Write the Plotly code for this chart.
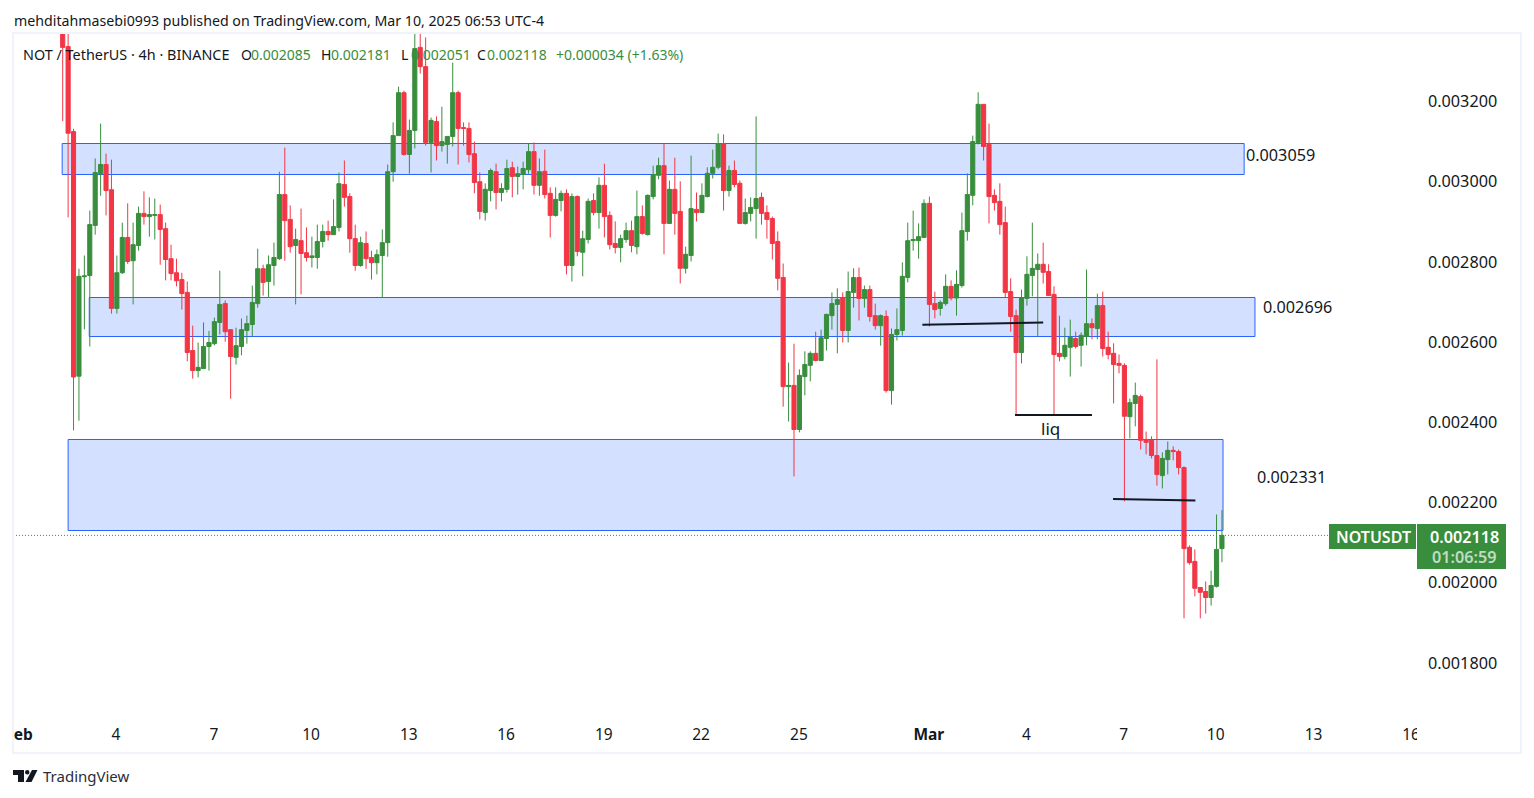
import numpy as np
import plotly.graph_objects as go

# NOT/USDT 4h candles, prices x 1e-6
opens = [3420,3337,3125,2515,2763,2766,2891,3020,3043,2980,
2684,2773,2861,2803,2841,2921,2913,2916,2918,2883,
2808,2773,2756,2724,2579,2529,2534,2589,2596,2649,
2696,2631,2562,2589,2629,2644,2696,2783,2751,2791,
2808,2968,2906,2841,2853,2823,2811,2811,2851,2876,
2868,2886,2993,2963,2858,2791,2846,2811,2798,2816,
2848,3025,3115,3222,3068,3128,3335,3287,3098,3150,
3090,3093,3113,3222,3135,3133,3070,3000,2923,2978,
3025,2973,2981,3035,3013,3018,3030,3075,2991,3026,
2971,2916,2953,2971,2791,2963,2824,2856,2953,2923,
2991,2916,2846,2836,2856,2878,2838,2913,2868,2963,
3016,3040,2896,2981,2926,2784,2816,2931,2923,2963,
3021,3036,3095,2978,3028,2996,2896,2921,2933,2961,
2923,2908,2851,2761,2489,2492,2382,2514,2542,2572,
2554,2609,2666,2694,2711,2629,2724,2761,2709,2731,
2666,2641,2664,2479,2619,2629,2761,2853,2853,2861,
2946,2696,2684,2696,2739,2710,2741,2876,2966,3098,
3193,3093,2966,2951,2898,2726,2666,2574,2709,2766,
2781,2794,2776,2719,2572,2564,2587,2609,2592,2614,
2646,2634,2691,2587,2572,2547,2542,2414,2447,2464,
2357,2355,2317,2267,2307,2330,2327,2287,2088,2053,
1988,1978,1963,1991,2085]
highs = [3450,3400,3132,2783,2816,2928,3058,3145,3070,3055,
2816,2898,2946,2898,2938,2976,2961,2958,2943,2898,
2843,2808,2773,2751,2641,2599,2649,2628,2661,2778,
2704,2631,2636,2659,2666,2741,2833,2793,2816,2848,
3025,3085,2941,2883,2933,2886,2863,2893,2893,2903,
2956,3023,3053,2971,2893,2863,2876,2828,2831,2881,
3043,3148,3237,3227,3155,3400,3400,3360,3160,3163,
3187,3113,3297,3227,3148,3148,3100,3023,2996,3033,
3045,2996,3055,3050,3038,3050,3095,3098,3058,3080,
2986,2986,2978,2981,2971,2966,2878,2958,2971,3011,
3045,2926,2901,2868,2898,2903,2978,2941,2968,3040,
3060,3095,3003,3060,3001,2838,3065,2973,2996,3036,
3080,3120,3118,3040,3053,3003,2958,2961,3163,2973,
2941,2913,2876,2796,2549,2596,2532,2577,2577,2626,
2631,2671,2724,2734,2724,2776,2784,2786,2741,2741,
2696,2669,2679,2634,2684,2799,2898,2928,2896,2956,
2963,2726,2704,2769,2754,2779,2923,3021,3115,3223,
3193,3145,2981,2996,2938,2759,2681,2731,2814,2898,
2821,2848,2794,2739,2666,2636,2656,2626,2624,2781,
2659,2721,2726,2626,2597,2569,2547,2459,2499,2469,
2377,2365,2557,2325,2352,2340,2332,2290,2093,2083,
1988,2003,2030,2170,2181]
lows = [3151,2911,2380,2404,2632,2589,2868,2965,2916,2671,
2671,2770,2795,2694,2828,2893,2863,2856,2793,2754,
2754,2739,2681,2552,2509,2512,2534,2529,2592,2619,
2601,2459,2544,2567,2596,2614,2686,2716,2710,2741,
2805,2803,2823,2694,2719,2801,2786,2783,2836,2853,
2868,2876,2938,2823,2778,2788,2783,2756,2769,2710,
2813,3000,3115,3065,3020,3083,3270,3090,3023,3053,
3075,3045,3088,3043,3090,3048,2971,2906,2903,2951,
2931,2951,2973,2961,2968,2981,3020,2968,2965,2958,
2861,2913,2926,2769,2751,2814,2764,2846,2916,2883,
2861,2831,2821,2799,2848,2824,2819,2868,2866,2956,
3006,2819,2896,2868,2746,2771,2801,2901,2923,2961,
3008,3031,2928,2963,2986,2896,2893,2901,2858,2893,
2858,2806,2729,2439,2402,2265,2375,2467,2502,2552,
2554,2579,2631,2572,2599,2599,2686,2654,2686,2651,
2631,2591,2474,2444,2604,2616,2749,2828,2808,2861,
2639,2659,2666,2691,2704,2666,2736,2853,2941,3093,
3053,2896,2928,2868,2711,2626,2417,2547,2691,2714,
2613,2746,2716,2417,2552,2557,2514,2584,2539,2592,
2607,2607,2564,2557,2447,2522,2203,2360,2390,2332,
2320,2310,2242,2235,2270,2305,2270,1911,2045,1966,
1911,1923,1943,1988,2051]
closes = [3335,3121,2513,2764,2765,2893,3023,3043,2978,2684,
2773,2861,2801,2843,2921,2913,2918,2918,2881,2806,
2771,2753,2721,2574,2529,2537,2589,2599,2651,2694,
2626,2564,2591,2631,2646,2699,2783,2749,2793,2811,
2968,2903,2838,2856,2821,2811,2815,2851,2876,2868,
2888,2995,2961,2858,2791,2848,2808,2798,2818,2848,
3025,3115,3222,3068,3128,3332,3287,3098,3153,3090,
3100,3113,3222,3133,3133,3068,2998,2926,2981,3028,
2973,2983,3033,3013,3020,3033,3075,2991,3025,2968,
2916,2956,2971,2791,2963,2826,2858,2951,2923,2991,
2913,2843,2836,2858,2878,2841,2913,2871,2966,3018,
3040,2896,2981,2921,2784,2819,2933,2923,2966,3021,
3036,3095,2978,3028,2993,2896,2923,2936,2958,2921,
2906,2846,2759,2489,2492,2382,2517,2544,2572,2554,
2611,2669,2696,2706,2629,2726,2761,2709,2731,2664,
2641,2666,2479,2619,2631,2764,2853,2856,2863,2946,
2694,2681,2699,2739,2710,2744,2878,2968,3100,3193,
3088,2963,2948,2893,2724,2664,2574,2711,2769,2784,
2794,2774,2716,2569,2564,2592,2612,2589,2617,2646,
2636,2691,2584,2569,2544,2542,2415,2449,2467,2355,
2350,2317,2270,2310,2330,2327,2287,2085,2050,1986,
1976,1963,1993,2083,2118]

price_ticks = [0.0018, 0.0020, 0.0022, 0.0024, 0.0026, 0.0028, 0.0030, 0.0032]
date_bars = [-7.3, 9.85, 27.9, 45.85, 63.9, 81.85, 99.9, 117.85, 135.9, 159.9, 177.9, 195.85, 212.85, 230.9, 248.9]
date_labels = ["<b>eb</b>", "4", "7", "10", "13", "16", "19", "22", "25", "<b>Mar</b>", "4", "7", "10", "13", "16"]

# supply / demand zones: start bar, end bar, top, bottom (x 1e-6)
zone_start = [-0.1, 4.9, 1.0]
zone_end = [218.1, 220.1, 214.2]
zone_top = [3095.3, 2711.2, 2357.1]
zone_bottom = [3018.0, 2613.9, 2130.1]

# hand-drawn trend lines: bar0, bar1, price0, price1 (x 1e-6)
line_x0 = [158.7, 175.8, 193.9]
line_x1 = [181.0, 190.0, 209.1]
line_p0 = [2643, 2418, 2209]
line_p1 = [2649, 2418, 2205]

FONT = "Noto Sans"
INK = "#131722"
GREEN = "#388E3C"
RED = "#F23645"
W, H = 1534, 798
L, R, T, B = 13, 1417, 34, 717
ZERO = 3453.2
SLOPE = 2.494


def px(x):
    return (x - L) / (R - L)


def py(y):
    return (B - y) / (B - T)


def to_p(a):
    return np.array(a, dtype=float) / 1e6


bars = np.arange(len(opens))
fig = go.Figure(go.Candlestick(
    x=bars, open=to_p(opens), high=to_p(highs), low=to_p(lows), close=to_p(closes),
    increasing=dict(line=dict(color=GREEN, width=1), fillcolor=GREEN),
    decreasing=dict(line=dict(color=RED, width=1), fillcolor=RED),
    whiskerwidth=0, showlegend=False, hoverinfo="skip",
))

shapes = []
for a, b, t, c in zip(zone_start, zone_end, zone_top, zone_bottom):
    shapes.append(dict(type="rect", layer="below", xref="x", yref="y", x0=a, x1=b, y0=c / 1e6, y1=t / 1e6,
                       fillcolor="rgba(41,98,255,0.2)", line=dict(color="#2962FF", width=1)))
for a, b, p, q in zip(line_x0, line_x1, line_p0, line_p1):
    shapes.append(dict(type="line", xref="x", yref="y", x0=a, x1=b, y0=p / 1e6, y1=q / 1e6,
                       line=dict(color=INK, width=2)))


def rect(x0, y0, x1, y1, fill, line=None, lw=0):
    return dict(type="rect", xref="paper", yref="paper", x0=px(x0), x1=px(x1), y0=py(y1), y1=py(y0),
                fillcolor=fill, line=dict(color=line or fill, width=lw))


last_y = closes[-1] / 1e6
shapes += [
    dict(type="line", xref="paper", yref="y", x0=0, x1=px(1329), y0=last_y, y1=last_y,
         line=dict(color=GREEN, width=1, dash="1px,2px")),
    rect(1329, 524, 1416, 549, GREEN),
    rect(1417, 524, 1506, 569, GREEN),
    rect(1417, 722, 1428, 746, "#FFFFFF"),
    dict(type="rect", xref="paper", yref="paper", x0=px(13), x1=px(1521), y0=py(753), y1=py(33),
         fillcolor="rgba(0,0,0,0)", line=dict(color="#F0F3FA", width=2)),
]


def logo(points):
    xs = [f"{px(x):.5f},{py(y):.5f}" for x, y in points]
    return "M" + " L".join(xs) + " Z"


shapes += [
    dict(type="path", xref="paper", yref="paper", path=logo([(13, 770), (24, 770), (24, 782), (18, 782), (18, 775), (13, 775)]),
         fillcolor=INK, line=dict(width=0)),
    dict(type="circle", xref="paper", yref="paper", x0=px(25), x1=px(29.5), y0=py(774.5), y1=py(770),
         fillcolor=INK, line=dict(width=0)),
    dict(type="path", xref="paper", yref="paper", path=logo([(32, 770), (37.5, 770), (31.5, 782), (25.5, 782)]),
         fillcolor=INK, line=dict(width=0)),
]


def note(x, y, text, size=16, color=INK, anchor="left", weight=None):
    return dict(xref="paper", yref="paper", x=px(x), y=py(y), text=text, showarrow=False, xanchor=anchor, yanchor="middle",
                font=dict(family=FONT, size=size, color=color, weight=weight), borderpad=0, align="left")


LEG = 14
annotations = [
    note(13, 20, "mehditahmasebi0993 published on TradingView.com, Mar 10, 2025 06:53 UTC-4", 14.2),
    note(22, 54, "NOT / TetherUS · 4h · BINANCE", 14.4),
    note(240, 54, "O", LEG), note(250, 54, "0.002085", LEG, GREEN),
    note(320, 54, "H", LEG), note(330, 54, "0.002181", LEG, GREEN),
    note(400, 54, "L", LEG), note(410, 54, "0.002051", LEG, GREEN),
    note(476, 54, "C", LEG), note(486, 54, "0.002118", LEG, GREEN),
    note(555, 54, "+0.000034 (+1.63%)", LEG, GREEN),
    note(1245, 155, "0.003059", 16.2),
    note(1262, 306.5, "0.002696", 16.2),
    note(1256, 476.5, "0.002331", 16.2),
    note(1050, 428.5, "liq", 17, INK, "center"),
    note(1373, 536.5, "NOTUSDT", 16, "#FFFFFF", "center", 600),
    note(1464, 536.5, "0.002118", 16.2, "#FFFFFF", "center", 600),
    note(1464, 557, "01:06:59", 16.2, "rgba(255,255,255,0.7)", "center", 600),
    note(42, 776, "TradingView", 15, "#2A2E39"),
]

fig.update_layout(
    width=W, height=H, autosize=False, paper_bgcolor="white", plot_bgcolor="white",
    margin=dict(l=L, r=W - R, t=T, b=H - B, autoexpand=False),
    font=dict(family=FONT, size=16, color=INK),
    boxgap=0.24, boxgroupgap=0, hovermode=False, showlegend=False,
    shapes=shapes, annotations=annotations,
    xaxis=dict(range=[(L - 62.7) / 5.417, (R - 62.7) / 5.417], rangeslider=dict(visible=False),
               tickmode="array", tickvals=date_bars, ticktext=date_labels, showgrid=False, zeroline=False,
               showline=False, ticks="", ticklabelstandoff=6, tickfont=dict(size=15.5, color=INK, family=FONT)),
    yaxis=dict(side="right", range=[(ZERO - SLOPE * B) / 1e6, (ZERO - SLOPE * T) / 1e6],
               tickmode="array", tickvals=price_ticks, ticktext=[f"{v:.6f}" for v in price_ticks],
               showgrid=False, zeroline=False, showline=False, ticks="", ticklabelstandoff=10,
               tickfont=dict(size=16.2, color=INK, family=FONT)),
)

fig.write_html("out.html", config=dict(displayModeBar=False),
               post_script="document.body.style.margin='0';document.body.style.overflow='hidden';")
